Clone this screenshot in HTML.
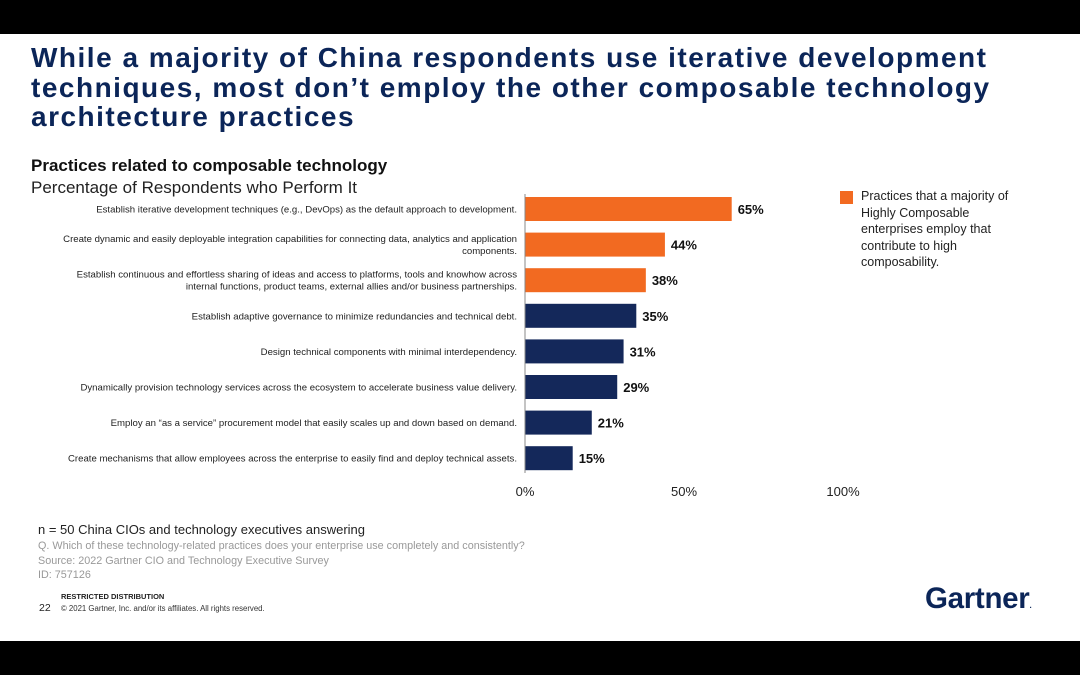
<!DOCTYPE html>
<html><head><meta charset="utf-8"><style>
body{margin:0;width:1080px;height:675px;background:#000;position:relative;overflow:hidden;font-family:"Liberation Sans",sans-serif}
#slide{position:absolute;left:0;top:34px;width:1080px;height:607px;background:#fff}
.t{position:absolute;white-space:nowrap}
</style></head><body>
<div id="slide"></div>
<div class="t" style="left:31px;top:43px;font-size:28px;font-weight:bold;color:#0b2558;line-height:29.5px;letter-spacing:1.5px">While a majority of China respondents use iterative development<br>techniques, most don’t employ the other composable technology<br>architecture practices</div>
<div class="t" style="left:31px;top:156px;font-size:17px;font-weight:bold;color:#111">Practices related to composable technology</div>
<div class="t" style="left:31px;top:178px;font-size:17px;color:#222">Percentage of Respondents who Perform It</div>
<div style="position:absolute;left:840px;top:191px;width:13px;height:13px;background:#f26a21"></div>
<div class="t" style="left:861px;top:188px;font-size:12.5px;line-height:16.5px;color:#222">Practices that a majority of<br>Highly Composable<br>enterprises employ that<br>contribute to high<br>composability.</div>
<svg id="chart" width="1080" height="675" style="position:absolute;left:0;top:0"></svg>
<div class="t" style="left:38px;top:522px;font-size:13px;color:#222">n = 50 China CIOs and technology executives answering</div>
<div class="t" style="left:38px;top:539px;font-size:10.8px;color:#999;line-height:14.5px">Q. Which of these technology-related practices does your enterprise use completely and consistently?<br>Source: 2022 Gartner CIO and Technology Executive Survey<br>ID: 757126</div>
<div class="t" style="left:61px;top:592px;font-size:7.5px;font-weight:bold;color:#222">RESTRICTED DISTRIBUTION</div>
<div class="t" style="left:39px;top:602px;font-size:10.5px;color:#222">22</div>
<div class="t" style="left:61px;top:604px;font-size:7.8px;color:#333">© 2021 Gartner, Inc. and/or its affiliates. All rights reserved.</div>
<div class="t" style="left:925px;top:582px;font-size:29.5px;font-weight:bold;color:#0b2558;letter-spacing:-0.3px">Gartner<span style="font-size:8px">.</span></div>
<script>
const categories=["Establish iterative development techniques (e.g., DevOps) as the default approach to development.","Create dynamic and easily deployable integration capabilities for connecting data, analytics and application|components.","Establish continuous and effortless sharing of ideas and access to platforms, tools and knowhow across|internal functions, product teams, external allies and/or business partnerships.","Establish adaptive governance to minimize redundancies and technical debt.","Design technical components with minimal interdependency.","Dynamically provision technology services across the ecosystem to accelerate business value delivery.","Employ an “as a service” procurement model that easily scales up and down based on demand.","Create mechanisms that allow employees across the enterprise to easily find and deploy technical assets."];
const values=[65,44,38,35,31,29,21,15];
const highlighted=[true,true,true,false,false,false,false,false];
const ticks=[0,50,100];
const svg=document.getElementById('chart');
const NS='http://www.w3.org/2000/svg';
const x=v=>525+v*3.18;
const y=i=>209+i*35.6;
function mk(t,a){const e=document.createElementNS(NS,t);for(const k in a)e.setAttribute(k,a[k]);svg.appendChild(e);return e;}
values.forEach((v,i)=>{
 const r=mk('rect',{x:x(0),y:y(i)-12,width:x(v)-x(0),height:24,fill:highlighted[i]?'#f26a21':'#14285a'});
 
 
 const t=mk('text',{x:x(v)+6,y:y(i)+5,'font-size':13,'font-weight':'bold',fill:'#111','font-family':'Liberation Sans'});
 t.textContent=v+'%';
 
 
 const lines=categories[i].split('|');
 lines.forEach((l,j)=>{
  const c=mk('text',{x:517,y:y(i)+3.5+(j-(lines.length-1)/2)*12,'font-size':9.6,fill:'#222','text-anchor':'end','font-family':'Liberation Sans'});
  c.textContent=l;
  
  
 });
});
const ax=mk('line',{x1:x(0),x2:x(0),y1:194,y2:473,stroke:'#888','stroke-width':1});


ticks.forEach(tk=>{
 const t=mk('text',{x:x(tk),y:496,'font-size':13,fill:'#222','text-anchor':'middle','font-family':'Liberation Sans'});
 t.textContent=tk+'%';
 
 
});
</script>
</body></html>
